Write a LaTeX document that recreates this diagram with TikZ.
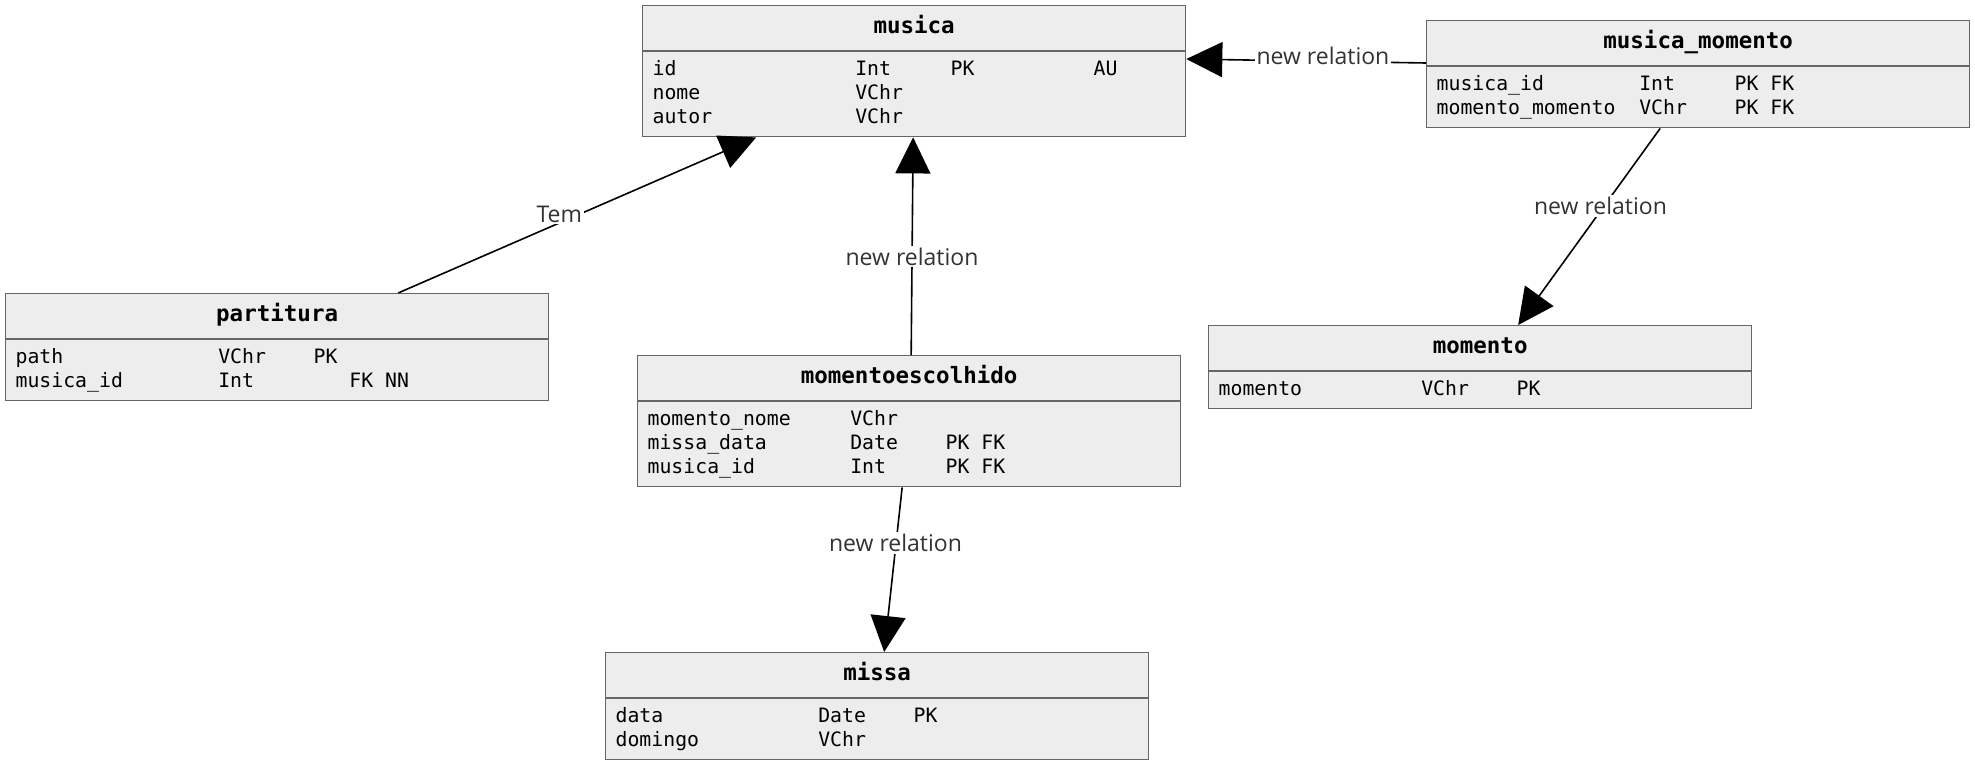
\documentclass[tikz,border=0pt]{standalone}
\usepackage{fontspec}
\setmonofont{DejaVu Sans Mono}
\newfontfamily\lblfont{Open Sans}
\usetikzlibrary{shapes.multipart,arrows.meta,calc}
\newlength\chw
\setlength\chw{11.92pt}
\newcommand\fld[3]{\makebox[17\chw][l]{#1}\makebox[8\chw][l]{#2}#3}
\newcommand\tblhead[1]{\rule[-17pt]{0pt}{44pt}\fontsize{22.5}{27}\bfseries #1}
\newcommand\tblbody[1]{\begin{minipage}[t]{523pt}\fontsize{19.8}{24}\selectfont
  \rule{0pt}{24pt}#1\rule[-12.5pt]{0pt}{12.5pt}\end{minipage}}
\tikzset{%
  entity/.style = {rectangle split, rectangle split parts=2,%
                   draw=black!60, fill=black!7, line width=1.3pt,%
                   inner xsep=10pt, inner ysep=0pt, minimum width=543pt,%
                   rectangle split part align={center,left},%
                   anchor=north west, font=\ttfamily},%
  reln/.style   = {line width=1.6pt, -{Triangle[length=36pt,width=35pt]}},%
  lbl/.style    = {fill=white, text=black!80, inner sep=2pt, yshift=5pt,%
                   font=\lblfont\fontsize{23}{28}\selectfont}%
}
\begin{document}
\begin{tikzpicture}[x=1pt, y=-1pt]
  \useasboundingbox (0,0) rectangle (1975,766);
  \node[entity] (musica) at (642,5) {\tblhead{musica}
    \nodepart{two}\tblbody{\fld{id}{Int}{PK\hspace{10\chw}AU}\\
      \fld{nome}{VChr}{}\\ \fld{autor}{VChr}{}}};
  \node[entity] (mm) at (1426,20) {\tblhead{musica\_momento}
    \nodepart{two}\tblbody{\fld{musica\_id}{Int}{PK FK}\\
      \fld{momento\_momento}{VChr}{PK FK}}};
  \node[entity] (partitura) at (5,293) {\tblhead{partitura}
    \nodepart{two}\tblbody{\fld{path}{VChr}{PK}\\
      \fld{musica\_id}{Int}{\hspace{3\chw}FK NN}}};
  \node[entity] (mome) at (637,355) {\tblhead{momentoescolhido}
    \nodepart{two}\tblbody{\fld{momento\_nome}{VChr}{}\\
      \fld{missa\_data}{Date}{PK FK}\\ \fld{musica\_id}{Int}{PK FK}}};
  \node[entity] (momento) at (1208,325) {\tblhead{momento}
    \nodepart{two}\tblbody{\fld{momento}{VChr}{PK}}};
  \node[entity] (missa) at (605,652) {\tblhead{missa}
    \nodepart{two}\tblbody{\fld{data}{Date}{PK}\\ \fld{domingo}{VChr}{}}};
  % relations
  \draw[reln] ($(partitura.north)+(121,0)$) -- node[lbl,pos=0.45,yshift=4pt] {Tem} ($(musica.south)+(-158,0)$);
  \draw[reln] ($(mome.north)+(2,0)$) -- node[lbl,pos=0.43] {new relation} ($(musica.south)+(-1,0)$);
  \draw[reln] ($(mm.north west)+(0,43)$) -- node[lbl,pos=0.43] {new relation} ($(musica.north east)+(0,54)$);
  \draw[reln] ($(mm.south)+(-38,0)$) -- node[lbl,pos=0.42] {new relation} ($(momento.north)+(38,0)$);
  \draw[reln] ($(mome.south)+(-7,0)$) -- node[lbl,pos=0.37] {new relation} ($(missa.north)+(7,0)$);
\end{tikzpicture}
\end{document}
